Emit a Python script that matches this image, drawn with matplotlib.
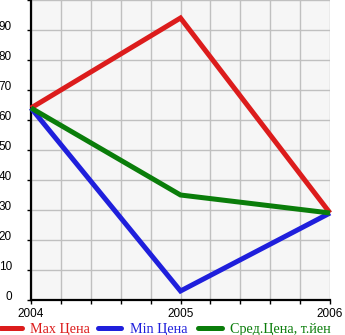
import matplotlib
matplotlib.use("Agg")
import matplotlib.pyplot as plt
import matplotlib.transforms as mtransforms
from matplotlib.lines import Line2D
from matplotlib.ticker import MultipleLocator

years = [2004, 2005, 2006]
max_price = [64, 94, 29]
min_price = [64, 3, 29]
avg_price = [64, 35, 29]
labels = ["Max Цена", "Min Цена", "Сред.Цена, т.йен"]
colors = ["#dc1c1c", "#1f1fdc", "#0a7d0a"]

W, H = 345, 335
fig = plt.figure(figsize=(W / 100, H / 100), dpi=100)
ax = fig.add_axes([31 / W, 35 / H, 299 / W, 300 / H])
ax.set_facecolor("#f6f6f6")

lw = 5 / 1.389
for ys, c in zip([max_price, min_price, avg_price], colors):
    ax.plot(years, ys, color=c, lw=lw, solid_capstyle="butt",
            solid_joinstyle="miter", zorder=3, clip_on=False)

ax.set_xlim(2004, 2006)
ax.set_ylim(0, 100)
ax.set_xticks(years)
ax.set_xticklabels([str(y) for y in years])
ax.xaxis.set_minor_locator(MultipleLocator(0.2))
ax.set_yticks(range(0, 100, 10))
ax.yaxis.set_minor_locator(MultipleLocator(10))
ax.grid(True, which="both", color="#c0c0c0", lw=1.0, zorder=0)
ax.tick_params(axis="both", which="both", direction="out", length=3,
               width=1, color="black", labelsize=8.5)
ax.tick_params(axis="y", pad=10.8)
ax.tick_params(axis="x", pad=3)
for t in ax.get_yticklabels() + ax.get_xticklabels():
    t.set_family("Liberation Sans")
# y labels sit a little above their ticks in the original
shift = mtransforms.ScaledTranslation(0, 4.5 / 100, fig.dpi_scale_trans)
for t in ax.get_yticklabels():
    t.set_transform(t.get_transform() + shift)
for s in ("top", "right"):
    ax.spines[s].set_visible(False)
for s in ("left", "bottom"):
    ax.spines[s].set_linewidth(1.6)

# legend drawn by hand in pixel positions
line_x = [(0, 22), (98, 121), (198, 222)]
text_x = [30, 130, 230]
ly = (335 - 328) / H
for (x0, x1), tx, lab, c in zip(line_x, text_x, labels, colors):
    fig.add_artist(Line2D([x0 / W, x1 / W], [ly, ly], color=c, lw=lw,
                          solid_capstyle="round", transform=fig.transFigure))
    fig.text(tx / W, (335 - 332.5) / H, lab, color=c, fontsize=10.2,
             family="Liberation Serif", va="baseline", ha="left")

fig.savefig("out.png", dpi=100)
